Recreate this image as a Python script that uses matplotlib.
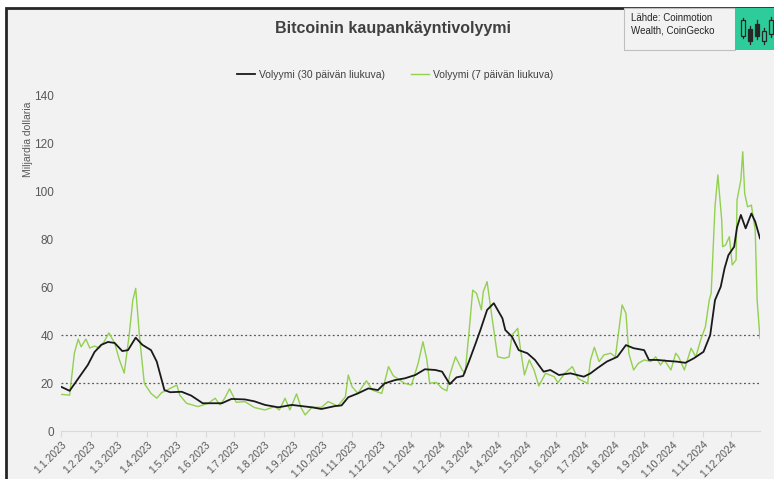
import matplotlib
matplotlib.use("Agg")
import matplotlib.pyplot as plt
import matplotlib.dates as mdates
from matplotlib.patches import Rectangle
from matplotlib.ticker import FuncFormatter
import pandas as pd

# 30 day moving average (billions USD)
dates_30 = ['2023-01-01', '2023-01-10', '2023-01-29', '2023-02-05', '2023-02-12', '2023-02-19',
            '2023-02-26', '2023-03-06', '2023-03-12', '2023-03-20', '2023-03-27', '2023-04-05',
            '2023-04-11', '2023-04-19', '2023-04-25', '2023-05-07', '2023-05-17', '2023-05-29',
            '2023-06-18', '2023-06-28', '2023-07-12', '2023-07-22', '2023-08-02', '2023-08-16',
            '2023-08-30', '2023-09-20', '2023-09-30', '2023-10-14', '2023-10-21', '2023-10-28',
            '2023-11-07', '2023-11-18', '2023-11-28', '2023-12-05', '2023-12-16', '2023-12-26',
            '2024-01-06', '2024-01-16', '2024-01-27', '2024-02-03', '2024-02-11', '2024-02-18',
            '2024-02-25', '2024-03-02', '2024-03-09', '2024-03-14', '2024-03-21', '2024-03-28',
            '2024-04-01', '2024-04-06', '2024-04-09', '2024-04-16', '2024-04-23', '2024-05-02',
            '2024-05-10', '2024-05-19', '2024-05-26', '2024-06-04', '2024-06-16', '2024-06-30',
            '2024-07-07', '2024-07-14', '2024-07-24', '2024-08-04', '2024-08-13', '2024-08-21',
            '2024-09-01', '2024-09-06', '2024-09-15', '2024-09-25', '2024-10-05', '2024-10-14',
            '2024-10-23', '2024-11-02', '2024-11-09', '2024-11-14', '2024-11-20', '2024-11-24',
            '2024-11-28', '2024-12-04', '2024-12-07', '2024-12-11', '2024-12-16', '2024-12-22',
            '2024-12-26', '2024-12-31']
vol_30 = [18.5, 16.8, 27.6, 33.0, 36.0, 37.2,
          36.8, 33.4, 33.8, 39.0, 36.0, 33.8,
          29.0, 17.1, 16.2, 16.4, 14.8, 11.6,
          11.6, 13.4, 13.2, 12.4, 10.9, 9.9,
          10.9, 9.9, 9.2, 10.4, 10.7, 14.1,
          15.7, 17.8, 17.1, 19.9, 21.3, 22.0,
          23.4, 25.8, 25.5, 24.8, 19.6, 22.4,
          23.0, 29.0, 36.6, 42.2, 50.6, 53.4,
          50.6, 47.1, 42.2, 39.4, 33.8, 32.5,
          29.7, 24.8, 25.5, 23.4, 24.1, 22.7,
          24.1, 26.2, 29.0, 31.0, 35.9, 34.6,
          33.8, 29.7, 29.7, 29.3, 29.0, 28.5,
          30.4, 33.1, 40.1, 54.7, 60.3, 68.0,
          73.5, 77.0, 85.1, 90.3, 84.7, 90.9,
          87.5, 80.5]

# 7 day moving average (billions USD)
dates_7 = ['2023-01-01', '2023-01-10', '2023-01-15', '2023-01-19', '2023-01-22', '2023-01-27',
           '2023-01-31', '2023-02-05', '2023-02-10', '2023-02-15', '2023-02-20', '2023-02-26',
           '2023-03-03', '2023-03-08', '2023-03-13', '2023-03-17', '2023-03-20', '2023-03-24',
           '2023-03-29', '2023-04-05', '2023-04-11', '2023-04-16', '2023-04-25', '2023-05-02',
           '2023-05-05', '2023-05-12', '2023-05-24', '2023-06-04', '2023-06-11', '2023-06-16',
           '2023-06-21', '2023-06-26', '2023-07-03', '2023-07-12', '2023-07-22', '2023-08-02',
           '2023-08-12', '2023-08-17', '2023-08-23', '2023-08-28', '2023-09-04', '2023-09-09',
           '2023-09-13', '2023-09-20', '2023-09-30', '2023-10-07', '2023-10-17', '2023-10-25',
           '2023-10-28', '2023-11-01', '2023-11-07', '2023-11-16', '2023-11-22', '2023-12-02',
           '2023-12-09', '2023-12-14', '2023-12-26', '2024-01-02', '2024-01-09', '2024-01-14',
           '2024-01-18', '2024-01-21', '2024-01-28', '2024-02-03', '2024-02-08', '2024-02-11',
           '2024-02-17', '2024-02-24', '2024-02-27', '2024-03-02', '2024-03-06', '2024-03-10',
           '2024-03-15', '2024-03-17', '2024-03-21', '2024-03-26', '2024-04-01', '2024-04-08',
           '2024-04-13', '2024-04-16', '2024-04-22', '2024-04-25', '2024-04-29', '2024-05-04',
           '2024-05-09', '2024-05-14', '2024-05-21', '2024-05-30', '2024-06-03', '2024-06-10',
           '2024-06-18', '2024-06-24', '2024-07-04', '2024-07-07', '2024-07-11', '2024-07-16',
           '2024-07-21', '2024-07-28', '2024-08-02', '2024-08-06', '2024-08-09', '2024-08-13',
           '2024-08-16', '2024-08-21', '2024-08-26', '2024-09-01', '2024-09-08', '2024-09-13',
           '2024-09-18', '2024-09-22', '2024-09-29', '2024-10-04', '2024-10-07', '2024-10-13',
           '2024-10-20', '2024-10-25', '2024-10-30', '2024-11-04', '2024-11-08', '2024-11-10',
           '2024-11-14', '2024-11-17', '2024-11-21', '2024-11-22', '2024-11-25', '2024-11-29',
           '2024-12-02', '2024-12-06', '2024-12-07', '2024-12-11', '2024-12-13', '2024-12-15',
           '2024-12-18', '2024-12-22', '2024-12-26', '2024-12-28', '2024-12-31']
vol_7 = [15.3, 15.0, 32.6, 38.4, 35.2, 38.4,
         34.7, 35.5, 34.7, 37.3, 41.0, 36.8,
         29.7, 24.2, 39.4, 54.7, 59.6, 39.4,
         19.9, 15.7, 13.7, 16.0, 17.8, 19.2,
         15.0, 11.6, 10.2, 11.6, 13.7, 10.9,
         13.7, 17.6, 12.0, 12.3, 9.8, 8.8,
         10.2, 8.8, 13.7, 8.8, 15.5, 9.5,
         6.7, 9.9, 9.9, 12.3, 10.4, 14.3,
         23.4, 18.5, 15.7, 21.0, 17.1, 15.7,
         26.9, 23.1, 19.9, 19.2, 28.3, 37.3,
         30.0, 20.0, 20.3, 17.8, 16.8, 23.4,
         31.0, 25.5, 24.1, 40.8, 58.9, 57.5,
         50.6, 58.2, 62.4, 47.8, 31.0, 30.4,
         31.0, 40.1, 42.9, 33.8, 23.4, 29.7,
         25.5, 18.8, 24.1, 22.7, 20.2, 24.1,
         26.9, 21.9, 19.9, 29.7, 35.0, 29.0,
         31.8, 32.5, 31.0, 43.6, 52.7, 49.2,
         32.5, 25.5, 28.3, 29.7, 29.0, 31.0,
         27.6, 29.7, 25.5, 32.5, 31.0, 25.5,
         34.6, 31.0, 38.0, 43.6, 54.7, 57.5,
         93.7, 107.0, 88.2, 77.0, 77.7, 81.2,
         69.4, 71.5, 96.5, 104.9, 116.7, 99.3,
         93.7, 94.4, 84.0, 54.7, 38.7]

y_ticks = [0, 20, 40, 60, 80, 100, 120, 140]
ref_lines = [20, 40]

plt.rcParams['font.family'] = ['Liberation Sans', 'DejaVu Sans']

W, H = 774, 479
fig = plt.figure(figsize=(W / 100, H / 100), dpi=100)
fig.patch.set_facecolor('white')


def fx(x):
    return x / W


def fy(y):
    return 1 - y / H


# grey panel with dark frame
fig.patches.append(Rectangle((fx(6), -0.01), fx(W - 6) + 0.01, fy(8) + 0.01, transform=fig.transFigure,
                             facecolor='#f2f2f2', edgecolor='#262626', linewidth=2, zorder=-10))

# source box + logo
fig.patches.append(Rectangle((fx(624), fy(50)), fx(111), fy(8) - fy(50), transform=fig.transFigure,
                             facecolor='#f2f2f2', edgecolor='#bfbfbf', linewidth=0.8, zorder=1))
fig.patches.append(Rectangle((fx(735), fy(50)), fx(39), fy(8) - fy(50), transform=fig.transFigure,
                             facecolor='#2ecc9a', edgecolor='none', zorder=1))
fig.text(fx(631), fy(13), 'Lähde: Coinmotion\nWealth, CoinGecko', fontsize=7,
         color='#262626', va='top', ha='left', linespacing=1.35)

# candlestick icon
candles = [(743, 20, 36, 18, 38, False), (750, 29, 41, 26, 44, True),
           (757, 24, 36, 20, 39, True), (764, 31, 41, 28, 44, False), (771, 20, 34, 17, 37, False)]
for cx, top, bot, wt, wb, filled in candles:
    fig.lines.append(plt.Line2D([fx(cx), fx(cx)], [fy(wt), fy(wb)], transform=fig.transFigure,
                                color='#262626', linewidth=0.9, zorder=2))
    fig.patches.append(Rectangle((fx(cx - 2), fy(bot)), fx(4), fy(top) - fy(bot),
                                 transform=fig.transFigure,
                                 facecolor='#262626' if filled else '#2ecc9a',
                                 edgecolor='#262626', linewidth=0.9, zorder=3))

fig.text(fx(393), fy(28), 'Bitcoinin kaupankäyntivolyymi', fontsize=11.5, fontweight='bold',
         color='#404040', ha='center', va='center')

ax = fig.add_axes([fx(61), fy(431), fx(760) - fx(61), fy(96) - fy(431)])
ax.set_facecolor('none')

d30 = pd.to_datetime(dates_30)
d7 = pd.to_datetime(dates_7)

for r in ref_lines:
    ax.axhline(r, color='#595959', linestyle=(0, (1.5, 2)), linewidth=0.9, zorder=1)

ax.plot(d30, vol_30, color='#1a1a1a', linewidth=1.3, label='Volyymi (30 päivän liukuva)', zorder=3)
ax.plot(d7, vol_7, color='#92d050', linewidth=1.0, label='Volyymi (7 päivän liukuva)', zorder=2)

ax.set_ylim(0, 140)
ax.set_yticks(y_ticks)
ax.set_xlim(pd.Timestamp('2023-01-01'), pd.Timestamp('2024-12-31'))
ax.xaxis.set_major_locator(mdates.MonthLocator(bymonthday=1))
ax.xaxis.set_major_formatter(FuncFormatter(
    lambda v, p: '{}.{}.{}'.format(mdates.num2date(v).day, mdates.num2date(v).month,
                                   mdates.num2date(v).year)))
plt.setp(ax.get_xticklabels(), rotation=45, ha='right', rotation_mode='anchor')

for s in ['top', 'right', 'left']:
    ax.spines[s].set_visible(False)
ax.spines['bottom'].set_color('#d9d9d9')
ax.tick_params(axis='x', colors='#d9d9d9', labelcolor='#595959', labelsize=7.5, length=4, pad=2)
ax.tick_params(axis='y', length=0, labelcolor='#595959', labelsize=8.5, pad=5)

ax.set_ylabel('Miljardia dollaria', fontsize=7.5, color='#595959')
ax.yaxis.set_label_coords((fx(33) - fx(61)) / (fx(760) - fx(61)), 0.87)

fig.legend(loc='center', bbox_to_anchor=(fx(395), fy(75)), ncol=2, frameon=False,
           fontsize=7.5, labelcolor='#404040', handlelength=1.7, handletextpad=0.4,
           columnspacing=2.5)

fig.savefig('out.png', dpi=100, facecolor=fig.get_facecolor())
